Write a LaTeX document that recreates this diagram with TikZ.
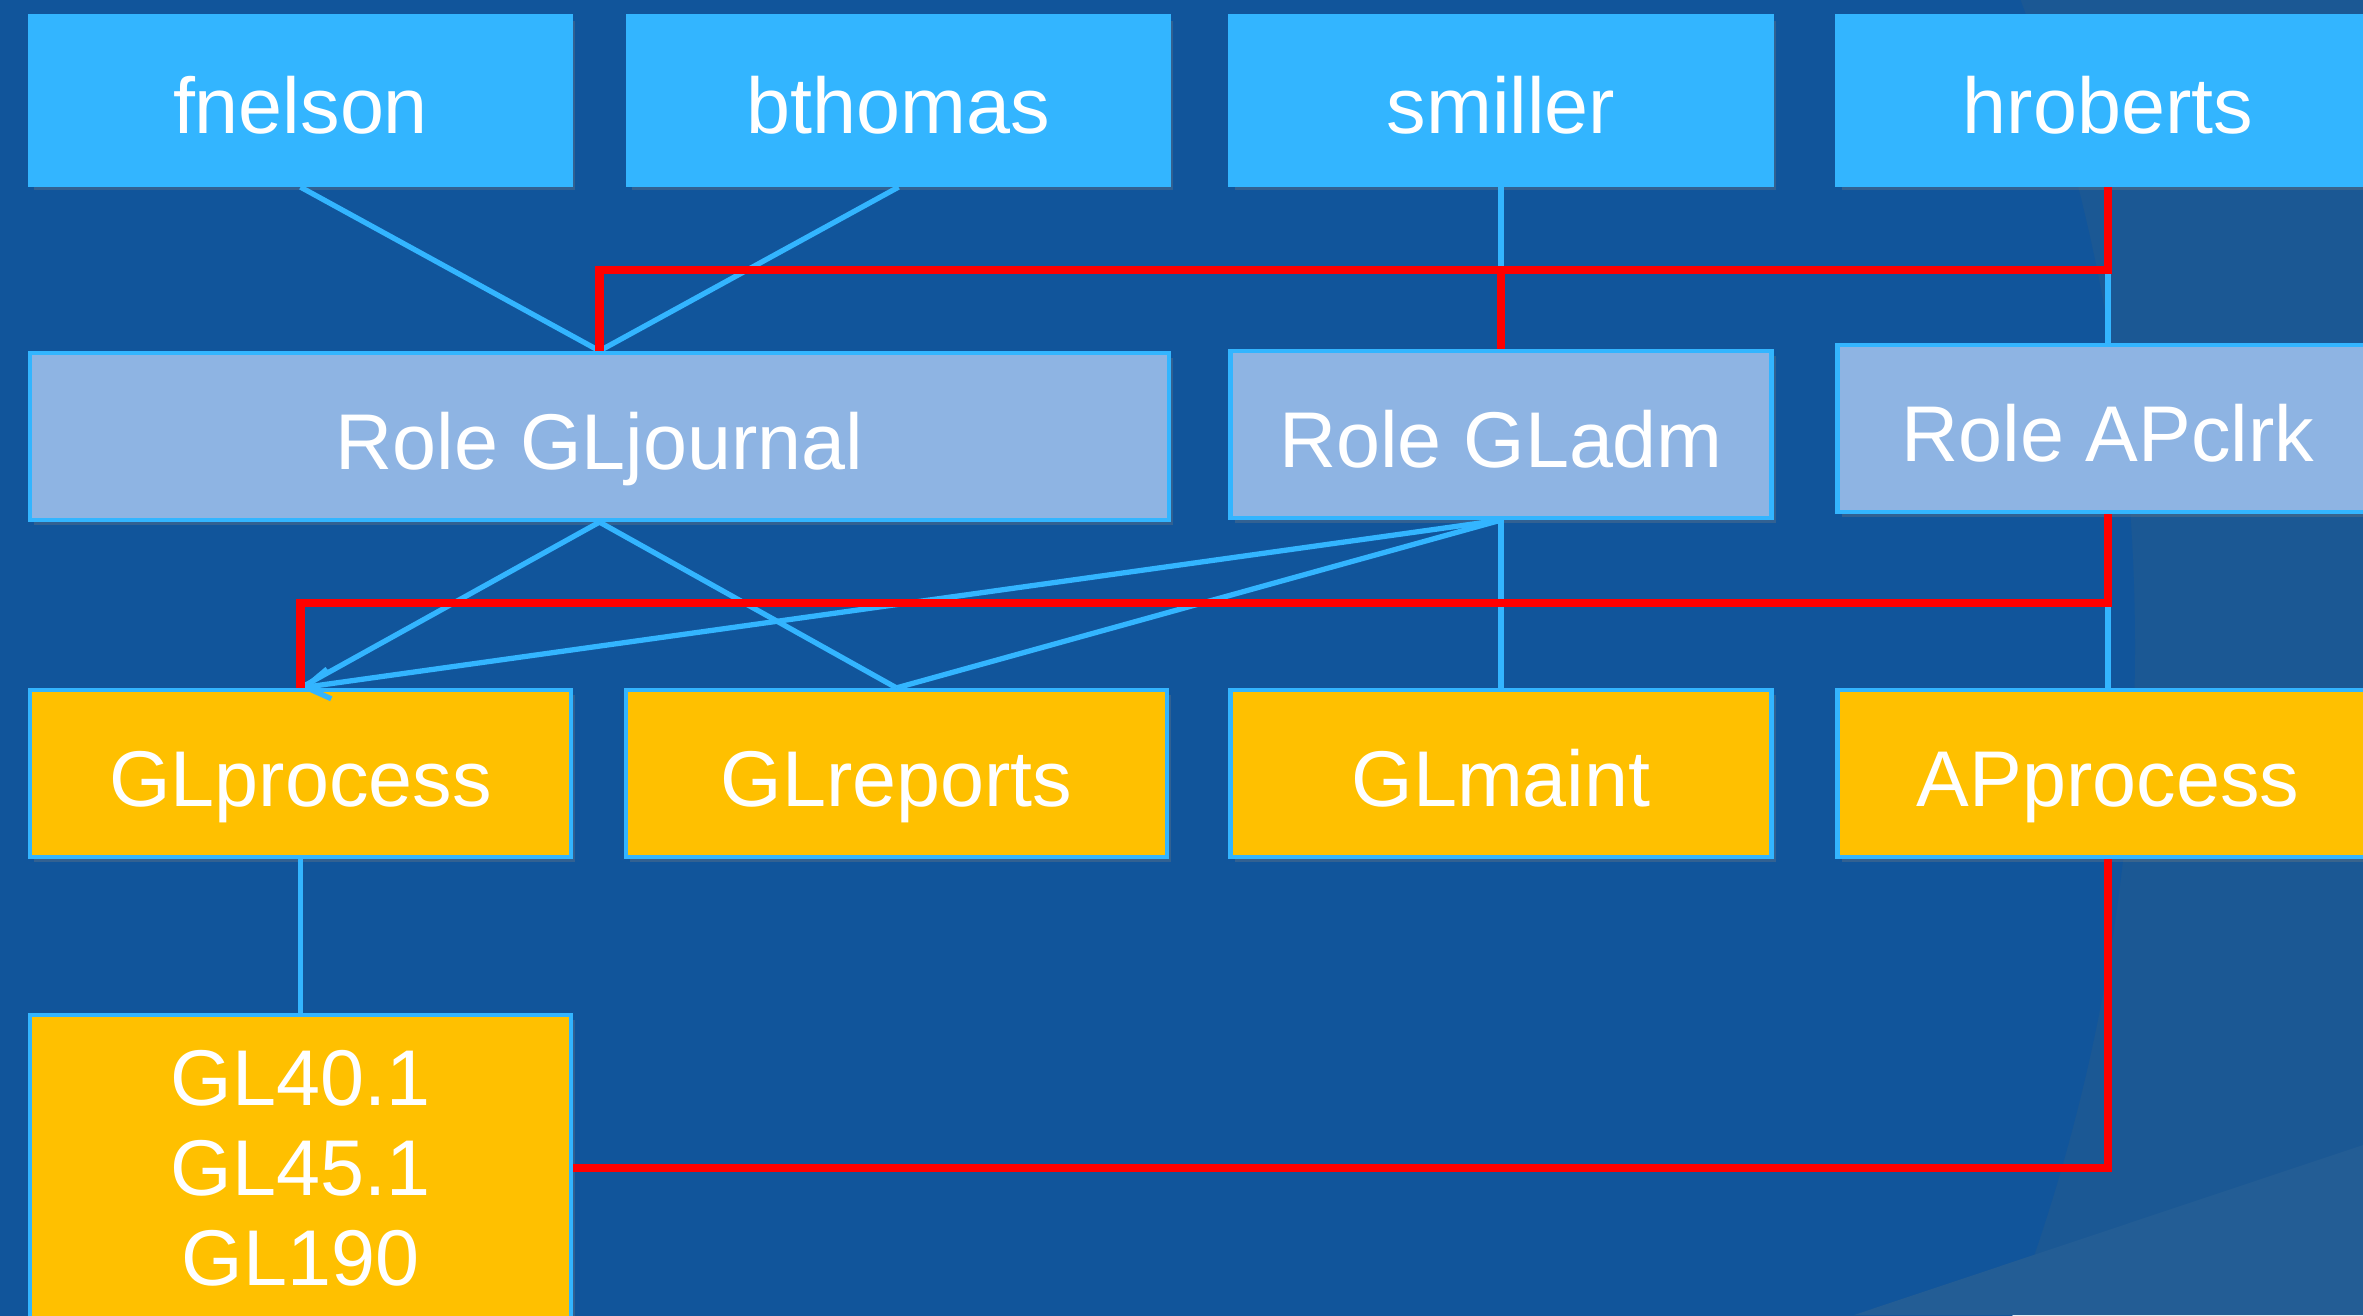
\documentclass[tikz,border=0pt]{standalone}
\usepackage{fontspec}
\setmainfont{Liberation Sans}
\usetikzlibrary{arrows.meta,shadows}
\definecolor{bgin}{HTML}{11559B}
\definecolor{bgout}{HTML}{1B5894}
\definecolor{bgband}{HTML}{235D95}
\definecolor{lineblue}{HTML}{33B5FF}
\definecolor{rolefill}{HTML}{8EB4E3}
\definecolor{progfill}{HTML}{FFC000}

\begin{document}
\begin{tikzpicture}[
    font=\fontsize{22.5}{25.6}\selectfont,
    box/.style={draw=lineblue, line width=1.2pt, text=white, minimum height=1.67cm, minimum width=5.41cm, inner sep=0pt,
      drop shadow={opacity=0.3, shadow xshift=0.04cm, shadow yshift=-0.05cm}},
    oneline/.style={text height=18.6pt, text depth=0pt},
    userbox/.style={box, oneline, fill=lineblue, minimum height=1.69cm},
    rolebox/.style={box, oneline, fill=rolefill},
    progbox/.style={box, oneline, fill=progfill},
    codebox/.style={box, fill=progfill, align=center},
    link/.style={lineblue, line width=1.5pt},
    redlink/.style={red, line width=2.3pt}
  ]
  \clip (0,0) rectangle (23.63,13.15);
  % background
  \fill[bgout] (0,0) rectangle (23.63,13.15);
  \fill[bgin] (2.58,6.68) circle (18.77);
  \fill[bgband] (18.54,0) -- (23.63,1.70) -- (23.63,0) -- cycle;

  % users
  \node[userbox] (fnelson) at (3.005,12.145) {fnelson};
  \node[userbox] (bthomas) at (8.985,12.145) {bthomas};
  \node[userbox] (smiller) at (15.01,12.145) {smiller};
  \node[userbox] (hroberts) at (21.08,12.145) {hroberts};

  % roles
  \node[rolebox, minimum width=11.39cm] (GLjournal) at (5.995,8.785) {Role GLjournal};
  \node[rolebox] (GLadm) at (15.01,8.805) {Role GLadm};
  \node[rolebox] (APclrk) at (21.08,8.865) {Role APclrk};

  % programs
  \node[progbox] (GLprocess) at (3.005,5.415) {GLprocess};
  \node[progbox] (GLreports) at (8.965,5.415) {GLreports};
  \node[progbox] (GLmaint) at (15.01,5.415) {GLmaint};
  \node[progbox] (APprocess) at (21.08,5.415) {APprocess};
  \node[codebox, minimum height=3.06cm] (GLcodes) at (3.005,1.47) {GL40.1\\GL45.1\\GL190};

  \draw[link] (fnelson.south) -- (GLjournal.north);
  \draw[link] (bthomas.south) -- (GLjournal.north);
  \draw[link] (smiller.south) -- (GLadm.north);
  \draw[link] (hroberts.south) -- (APclrk.north);
  \draw[link] (GLjournal.south) -- (GLprocess.north);
  \draw[link] (GLjournal.south) -- (GLreports.north);
  \draw[link, -{Straight Barb[length=2.4mm,width=3mm]}] (GLadm.south) -- (GLprocess.north);
  \draw[link] (GLadm.south) -- (GLreports.north);
  \draw[link] (GLadm.south) -- (GLmaint.north);
  \draw[link] (APclrk.south) -- (APprocess.north);
  \draw[link] (GLprocess.south) -- (GLcodes.north);

  % conflict paths
  \draw[redlink] (hroberts.south) -- ++(0,-0.83) -| (GLjournal.north);
  \draw[redlink] (GLadm.north) -- ++(0,0.83);
  \draw[redlink] (APclrk.south) -- ++(0,-0.89) -| (GLprocess.north);
  \draw[redlink] (APprocess.south) |- (GLcodes.east);
\end{tikzpicture}
\end{document}
